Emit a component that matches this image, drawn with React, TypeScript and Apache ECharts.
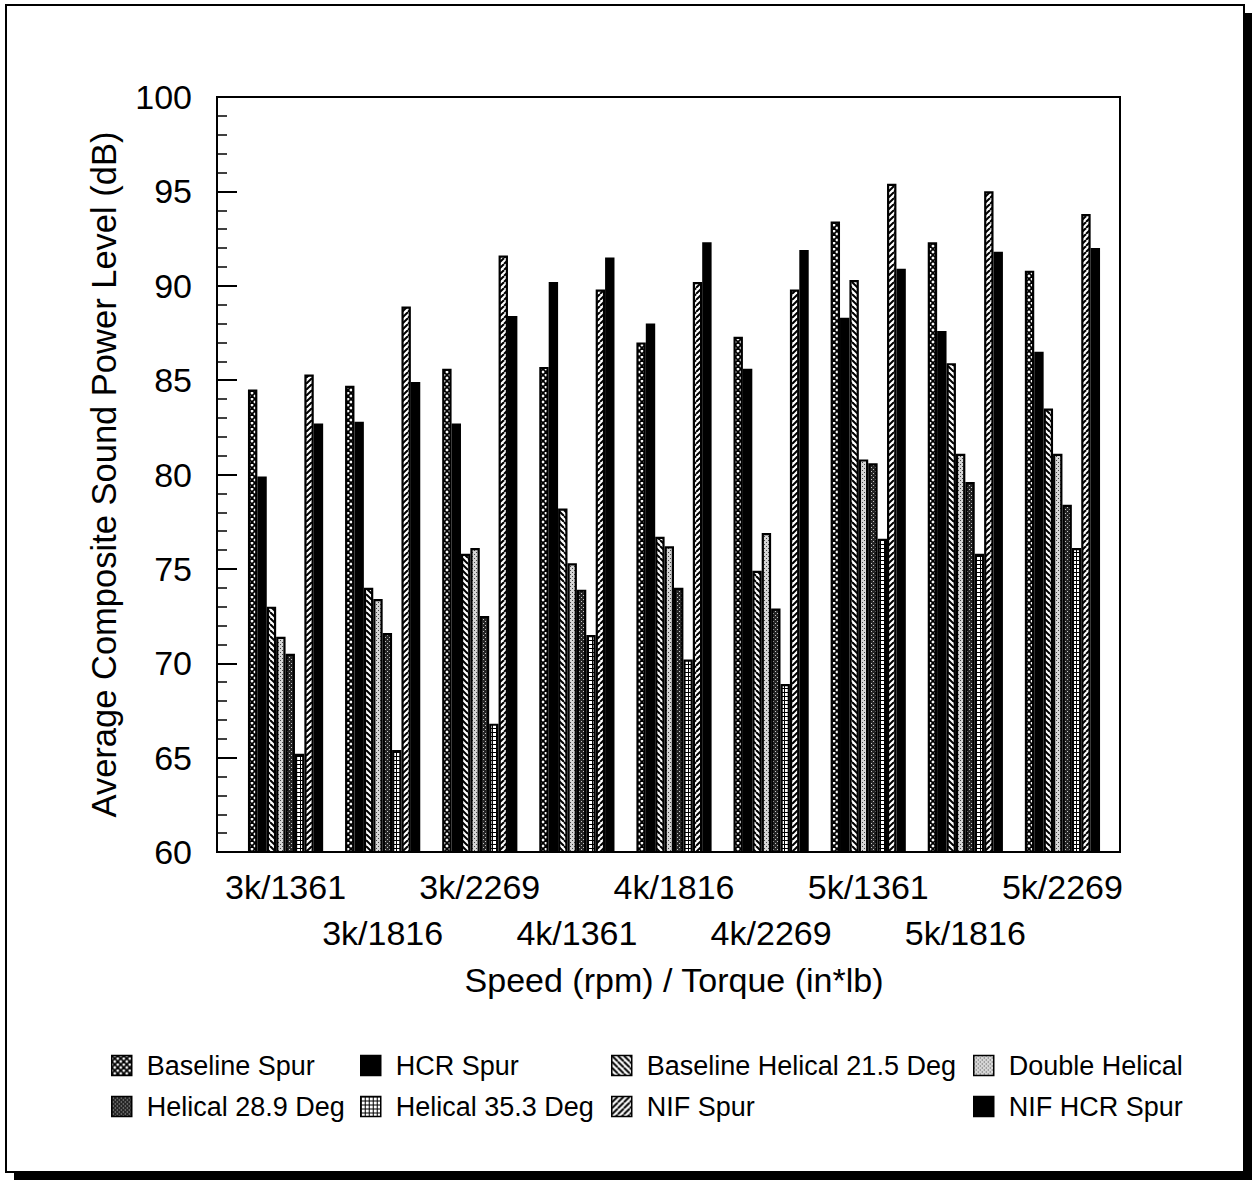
import React, { useEffect, useRef } from "react";
import * as echarts from "echarts";

const categories = ["3k/1361", "3k/1816", "3k/2269", "4k/1361", "4k/1816", "4k/2269", "5k/1361", "5k/1816", "5k/2269"];

const baselineSpur = [84.5, 84.7, 85.6, 85.7, 87.0, 87.3, 93.4, 92.3, 90.8];
const hcrSpur = [79.9, 82.8, 82.7, 90.2, 88.0, 85.6, 88.3, 87.6, 86.5];
const baselineHelical = [73.0, 74.0, 75.8, 78.2, 76.7, 74.9, 90.3, 85.9, 83.5];
const doubleHelical = [71.4, 73.4, 76.1, 75.3, 76.2, 76.9, 80.8, 81.1, 81.1];
const helical289 = [70.5, 71.6, 72.5, 73.9, 74.0, 72.9, 80.6, 79.6, 78.4];
const helical353 = [65.2, 65.4, 66.8, 71.5, 70.2, 68.9, 76.6, 75.8, 76.1];
const nifSpur = [85.3, 88.9, 91.6, 89.8, 90.2, 89.8, 95.4, 95.0, 93.8];
const nifHcrSpur = [82.7, 84.9, 88.4, 91.5, 92.3, 91.9, 90.9, 91.8, 92.0];

const seriesNames = [
  "Baseline Spur",
  "HCR Spur",
  "Baseline Helical 21.5 Deg",
  "Double Helical",
  "Helical 28.9 Deg",
  "Helical 35.3 Deg",
  "NIF Spur",
  "NIF HCR Spur",
];

const FONT = "Liberation Sans, Arial, sans-serif";

function tile(w: number, h: number, draw: (ctx: CanvasRenderingContext2D) => void) {
  const c = document.createElement("canvas");
  c.width = w;
  c.height = h;
  const ctx = c.getContext("2d") as CanvasRenderingContext2D;
  draw(ctx);
  return c;
}

function makePatterns() {
  const cross = tile(6, 6, (ctx) => {
    ctx.fillStyle = "#fff";
    ctx.fillRect(0, 0, 6, 6);
    ctx.strokeStyle = "#000";
    ctx.lineWidth = 1.8;
    for (const o of [-6, 0, 6]) {
      ctx.beginPath();
      ctx.moveTo(o, 0);
      ctx.lineTo(o + 6, 6);
      ctx.stroke();
      ctx.beginPath();
      ctx.moveTo(o, 6);
      ctx.lineTo(o + 6, 0);
      ctx.stroke();
    }
  });
  const back = tile(6, 6, (ctx) => {
    ctx.fillStyle = "#fff";
    ctx.fillRect(0, 0, 6, 6);
    ctx.strokeStyle = "#000";
    ctx.lineWidth = 2;
    for (const o of [-6, 0, 6]) {
      ctx.beginPath();
      ctx.moveTo(o, 0);
      ctx.lineTo(o + 6, 6);
      ctx.stroke();
    }
  });
  const fwd = tile(6, 6, (ctx) => {
    ctx.fillStyle = "#fff";
    ctx.fillRect(0, 0, 6, 6);
    ctx.strokeStyle = "#000";
    ctx.lineWidth = 2;
    for (const o of [-6, 0, 6]) {
      ctx.beginPath();
      ctx.moveTo(o, 6);
      ctx.lineTo(o + 6, 0);
      ctx.stroke();
    }
  });
  const stipple = tile(4, 4, (ctx) => {
    ctx.fillStyle = "#d6d6d6";
    ctx.fillRect(0, 0, 4, 4);
    ctx.fillStyle = "#444";
    ctx.fillRect(0, 0, 1, 1);
    ctx.fillRect(2, 2, 1, 1);
  });
  const dark = tile(4, 4, (ctx) => {
    ctx.fillStyle = "#262626";
    ctx.fillRect(0, 0, 4, 4);
    ctx.fillStyle = "#c8c8c8";
    ctx.fillRect(1, 1, 1, 1);
    ctx.fillRect(3, 3, 1, 1);
  });
  const grid = tile(4, 4, (ctx) => {
    ctx.fillStyle = "#fff";
    ctx.fillRect(0, 0, 4, 4);
    ctx.fillStyle = "#000";
    ctx.fillRect(0, 0, 4, 1);
    ctx.fillRect(0, 0, 1, 4);
  });
  const p = (c: HTMLCanvasElement) => ({ image: c, repeat: "repeat" });
  return [p(cross), "#000", p(back), p(stipple), p(dark), p(grid), p(fwd), "#000"];
}

export default function App() {
  const ref = useRef<HTMLDivElement>(null);

  useEffect(() => {
    if (!ref.current) return;
    const chart = echarts.init(ref.current, undefined, { renderer: "svg" });
    const fills = makePatterns();
    const values = [baselineSpur, hcrSpur, baselineHelical, doubleHelical, helical289, helical353, nifSpur, nifHcrSpur];

    const legendCols = [
      { left: 106, names: [seriesNames[0], seriesNames[4]] },
      { left: 355, names: [seriesNames[1], seriesNames[5]] },
      { left: 606, names: [seriesNames[2], seriesNames[6]] },
      { left: 968, names: [seriesNames[3], seriesNames[7]] },
    ];

    chart.setOption({
      animation: false,
      backgroundColor: "#fff",
      textStyle: { fontFamily: FONT, color: "#000" },
      graphic: [
        { type: "rect", z: -20, shape: { x: 14, y: 13, width: 1238, height: 1167 }, style: { fill: "#000" } },
        { type: "rect", z: -19, shape: { x: 6, y: 5, width: 1238, height: 1167 }, style: { fill: "#fff", stroke: "#000", lineWidth: 2 } },
      ],
      grid: [
        { left: 217, top: 97, width: 903, height: 755, show: true, borderColor: "#000", borderWidth: 2, backgroundColor: "transparent" },
        { left: 237, top: 97, width: 874, height: 755 },
      ],
      xAxis: [
        { gridIndex: 0, type: "value", min: 0, max: 1, show: false },
        {
          gridIndex: 1,
          type: "category",
          data: categories,
          axisLine: { show: false },
          axisTick: { show: false },
          axisLabel: {
            interval: 0,
            fontSize: 34,
            fontFamily: FONT,
            color: "#000",
            lineHeight: 46,
            margin: 12,
            formatter: (v: string, i: number) => (i % 2 === 1 ? "\n" + v : v),
          },
          name: "Speed (rpm) / Torque (in*lb)",
          nameLocation: "middle",
          nameGap: 111,
          nameTextStyle: { fontSize: 34, fontFamily: FONT, color: "#000" },
        },
      ],
      yAxis: [
        {
          gridIndex: 0,
          type: "value",
          min: 60,
          max: 100,
          interval: 5,
          splitLine: { show: false },
          axisLine: { show: true, lineStyle: { color: "#000", width: 2 } },
          axisTick: { show: true, inside: true, length: 20, lineStyle: { color: "#000", width: 2 } },
          minorTick: { show: true, splitNumber: 5, length: 10, lineStyle: { color: "#000", width: 1.5 } },
          axisLabel: { fontSize: 34, fontFamily: FONT, color: "#000", margin: 25 },
          name: "Average Composite Sound Power Level (dB)",
          nameLocation: "middle",
          nameGap: 96,
          nameTextStyle: { fontSize: 34.5, fontFamily: FONT, color: "#000" },
        },
        { gridIndex: 1, type: "value", min: 60, max: 100, show: false },
      ],
      legend: legendCols.map((c) => ({
        orient: "vertical",
        left: c.left,
        top: 1045,
        data: c.names,
        itemWidth: 20,
        itemHeight: 20,
        itemGap: 10,
        icon: "rect",
        itemStyle: { borderColor: "#000", borderWidth: 1.5 },
        textStyle: { fontSize: 27, fontFamily: FONT, color: "#000", lineHeight: 31, padding: [0, 0, 0, 10] },
        selectedMode: false,
      })),
      series: seriesNames.map((name, k) => ({
        name,
        type: "bar",
        xAxisIndex: 1,
        yAxisIndex: 1,
        data: values[k],
        barWidth: 9.4,
        barGap: "0%",
        itemStyle: { color: fills[k], borderColor: "#000", borderWidth: 2.2 },
        emphasis: { disabled: true },
      })),
    });

    return () => chart.dispose();
  }, []);

  return (
    <div
      ref={ref}
      style={{ position: "absolute", left: 0, top: 0, width: 1260, height: 1182, background: "#fff" }}
    />
  );
}
